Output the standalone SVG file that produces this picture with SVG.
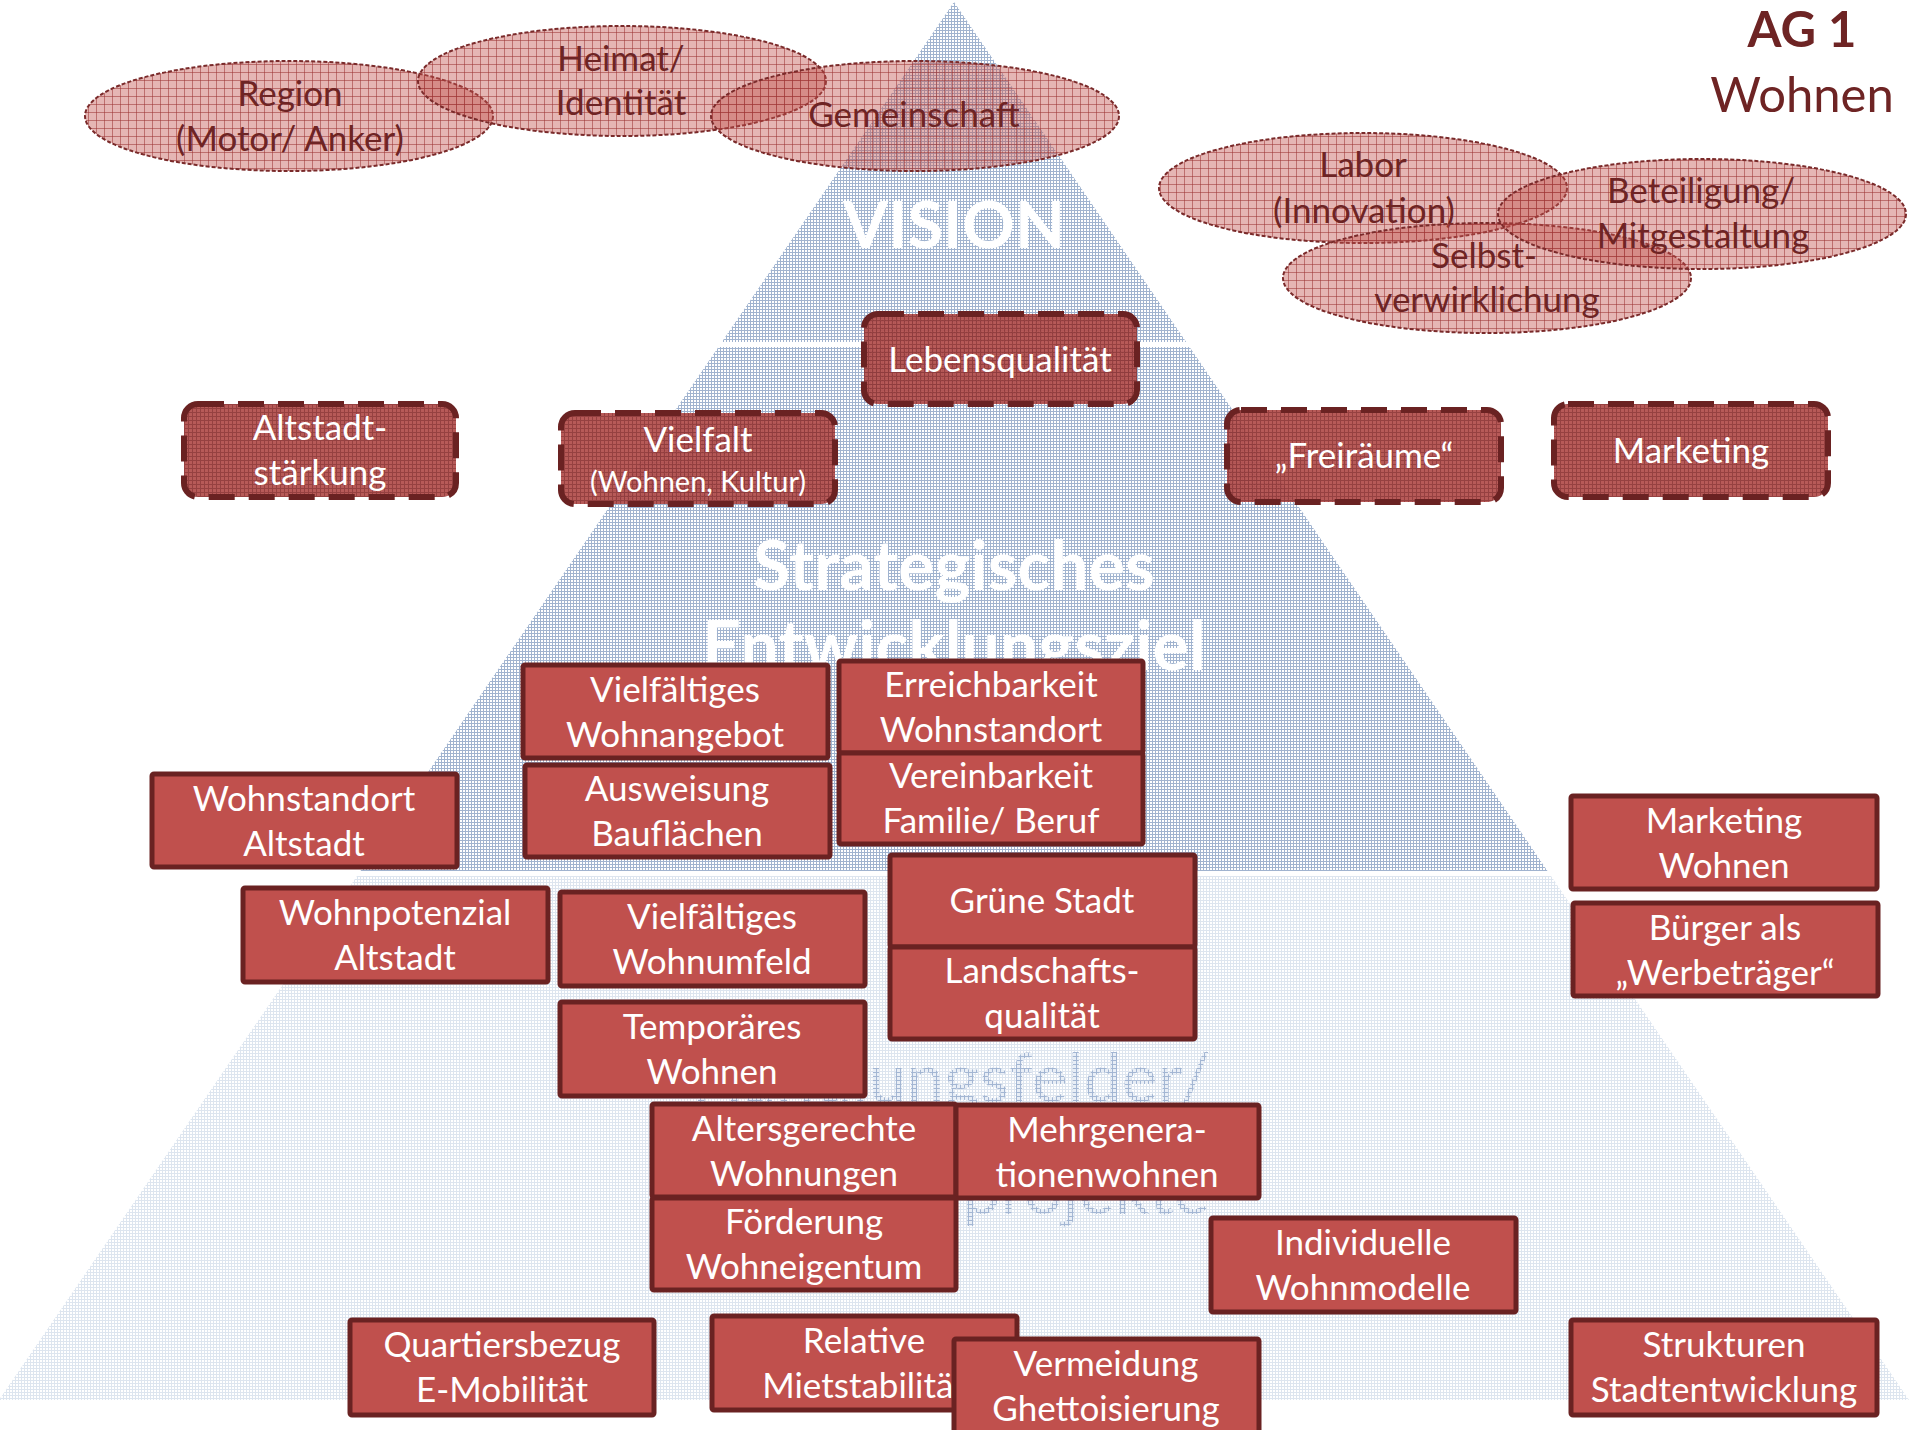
<svg xmlns="http://www.w3.org/2000/svg" width="1910" height="1430" viewBox="0 0 1910 1430">
<defs>
<pattern id="pTier" width="6" height="6" patternUnits="userSpaceOnUse">
<rect width="6" height="6" fill="#ffffff"/>
<path d="M0 0.5H6M0 3.5H6M0.5 0V6M3.5 0V6" stroke="#A0B3CF" stroke-width="1" fill="none"/>
</pattern>
<pattern id="pTierLight" width="6" height="6" patternUnits="userSpaceOnUse">
<rect width="6" height="6" fill="#ffffff"/>
<path d="M0 0.5H6M0 3.5H6M0.5 0V6M3.5 0V6" stroke="#DDE5EF" stroke-width="1" fill="none"/>
</pattern>
<pattern id="pText" width="4" height="4" patternUnits="userSpaceOnUse">
<rect width="4" height="4" fill="#E8EEF6"/>
<path d="M0 0.5H4M0.5 0V4" stroke="#A3B6D3" stroke-width="1" fill="none"/>
</pattern>
<pattern id="pEll" width="8" height="8" patternUnits="userSpaceOnUse">
<rect width="8" height="8" fill="#C0504D" fill-opacity="0.42"/>
<path d="M0 0.5H8M0.5 0V8" stroke="#9A3434" stroke-opacity="0.55" stroke-width="1" fill="none"/>
</pattern>
<pattern id="pDash" width="4" height="4" patternUnits="userSpaceOnUse">
<rect width="4" height="4" fill="#B14D4B"/>
<path d="M0 0.5H4M0.5 0V4" stroke="#8E3333" stroke-width="1" fill="none"/>
</pattern>
</defs>
<style>
.box rect { fill:#C0504D; stroke:#6A2222; stroke-width:5; }
.bt { font-family:Lato, "Open Sans", sans-serif; font-size:35px; fill:#ffffff; text-anchor:middle; }
.sm { font-size:29px; }
.dbox rect { fill:url(#pDash); fill-opacity:0.93; stroke:#6A2222; stroke-width:6; stroke-dasharray:26 14; }
.ell ellipse { fill:url(#pEll); stroke:#7A2A2A; stroke-width:2; stroke-dasharray:4 2; }
.et { font-family:Lato, "Open Sans", sans-serif; font-size:35px; fill:#6E2424; text-anchor:middle; }
.pt { font-family:Lato, "Open Sans", sans-serif; font-size:68px; font-weight:bold; fill:#ffffff; text-anchor:middle; }
.vis { font-size:65px; }
.pt3 { font-family:Lato, "Open Sans", sans-serif; font-size:68px; fill:url(#pText); text-anchor:middle; }
.title { font-family:Lato, "Open Sans", sans-serif; font-size:49px; fill:#6E2424; text-anchor:middle; }
</style>
<rect width="1910" height="1430" fill="#ffffff"/>

<g id="pyramid">
<polygon points="954,2 1186.2,342 721.8,342" fill="url(#pTier)"/>
<polygon points="718.4,347 1189.6,347 1547.5,871 360.5,871" fill="url(#pTier)"/>
<polygon points="357,876 1551,876 1909,1400 -1,1400" fill="url(#pTierLight)"/>
<text class="pt vis" x="954" y="248">VISION</text>
<text class="pt" x="954" y="590">Strategisches</text>
<text class="pt" x="954" y="670">Entwicklungsziel</text>
<text class="pt3" x="951" y="1102">Handlungsfelder/</text>
<text class="pt3" x="950" y="1214">Schlüsselprojekte</text>
</g>

<g id="title">
<text class="title" x="1802" y="47" font-weight="bold">AG 1</text>
<text class="title" x="1802" y="112">Wohnen</text>
</g>

<g id="ell-region" class="ell"><ellipse cx="289" cy="116" rx="204" ry="55"/><text class="et" x="290" y="106">Region</text><text class="et" x="290" y="151">(Motor/ Anker)</text></g>
<g id="ell-heimat" class="ell"><ellipse cx="622" cy="81" rx="204" ry="55"/><text class="et" x="621" y="71">Heimat/</text><text class="et" x="621" y="115">Identität</text></g>
<g id="ell-gemeinschaft" class="ell"><ellipse cx="915" cy="116" rx="204" ry="55"/><text class="et" x="914" y="127">Gemeinschaft</text></g>
<g id="ell-labor" class="ell"><ellipse cx="1363" cy="188" rx="204" ry="55"/><text class="et" x="1363" y="177">Labor</text><text class="et" x="1364" y="223">(Innovation)</text></g>
<g id="ell-selbst" class="ell"><ellipse cx="1487" cy="278" rx="204" ry="55"/><text class="et" x="1484" y="268">Selbst-</text><text class="et" x="1487" y="312">verwirklichung</text></g>
<g id="ell-beteiligung" class="ell"><ellipse cx="1702" cy="214" rx="204" ry="55"/><text class="et" x="1701" y="203">Beteiligung/</text><text class="et" x="1703" y="248">Mitgestaltung</text></g>

<g id="d-lebensqualitaet" class="dbox"><rect x="864" y="314" width="273" height="90" rx="14"/><text class="bt" x="1000" y="372">Lebensqualität</text></g>
<g id="d-altstadt" class="dbox"><rect x="184" y="404" width="272" height="93" rx="14"/><text class="bt" x="320" y="440">Altstadt-</text><text class="bt" x="320" y="485">stärkung</text></g>
<g id="d-vielfalt" class="dbox"><rect x="561" y="413" width="274" height="91" rx="14"/><text class="bt" x="698" y="452">Vielfalt</text><text class="bt sm" x="698" y="492">(Wohnen, Kultur)</text></g>
<g id="d-freiraeume" class="dbox"><rect x="1227" y="410" width="274" height="92" rx="14"/><text class="bt" x="1364" y="468">„Freiräume“</text></g>
<g id="d-marketing" class="dbox"><rect x="1554" y="404" width="274" height="93" rx="14"/><text class="bt" x="1691" y="463">Marketing</text></g>

<g id="b-vielf-wohnangebot" class="box"><rect x="523" y="665" width="305" height="93" rx="2"/><text class="bt" x="675" y="702">Vielfältiges</text><text class="bt" x="675" y="747">Wohnangebot</text></g>
<g id="b-erreichbarkeit" class="box"><rect x="839" y="661" width="304" height="92" rx="2"/><text class="bt" x="991" y="697">Erreichbarkeit</text><text class="bt" x="991" y="742">Wohnstandort</text></g>
<g id="b-vereinbarkeit" class="box"><rect x="839" y="753" width="304" height="91" rx="2"/><text class="bt" x="991" y="788">Vereinbarkeit</text><text class="bt" x="991" y="833">Familie/ Beruf</text></g>
<g id="b-ausweisung" class="box"><rect x="525" y="765" width="305" height="92" rx="2"/><text class="bt" x="677" y="801">Ausweisung</text><text class="bt" x="677" y="846">Bauflächen</text></g>
<g id="b-wohnstandort-altstadt" class="box"><rect x="152" y="774" width="305" height="93" rx="2"/><text class="bt" x="304" y="811">Wohnstandort</text><text class="bt" x="304" y="856">Altstadt</text></g>
<g id="b-marketing-wohnen" class="box"><rect x="1571" y="796" width="306" height="93" rx="2"/><text class="bt" x="1724" y="833">Marketing</text><text class="bt" x="1724" y="878">Wohnen</text></g>
<g id="b-wohnpotenzial" class="box"><rect x="243" y="888" width="305" height="94" rx="2"/><text class="bt" x="395" y="925">Wohnpotenzial</text><text class="bt" x="395" y="970">Altstadt</text></g>
<g id="b-wohnumfeld" class="box"><rect x="560" y="892" width="305" height="94" rx="2"/><text class="bt" x="712" y="929">Vielfältiges</text><text class="bt" x="712" y="974">Wohnumfeld</text></g>
<g id="b-gruene-stadt" class="box"><rect x="890" y="855" width="305" height="92" rx="2"/><text class="bt" x="1042" y="913">Grüne Stadt</text></g>
<g id="b-landschaft" class="box"><rect x="890" y="947" width="305" height="92" rx="2"/><text class="bt" x="1042" y="983">Landschafts-</text><text class="bt" x="1042" y="1028">qualität</text></g>
<g id="b-buerger" class="box"><rect x="1573" y="903" width="305" height="93" rx="2"/><text class="bt" x="1725" y="940">Bürger als</text><text class="bt" x="1725" y="985">„Werbeträger“</text></g>
<g id="b-temporaeres" class="box"><rect x="560" y="1002" width="305" height="94" rx="2"/><text class="bt" x="712" y="1039">Temporäres</text><text class="bt" x="712" y="1084">Wohnen</text></g>
<g id="b-altersgerecht" class="box"><rect x="652" y="1104" width="304" height="93" rx="2"/><text class="bt" x="804" y="1141">Altersgerechte</text><text class="bt" x="804" y="1186">Wohnungen</text></g>
<g id="b-mehrgen" class="box"><rect x="956" y="1105" width="303" height="93" rx="2"/><text class="bt" x="1107" y="1142">Mehrgenera-</text><text class="bt" x="1107" y="1187">tionenwohnen</text></g>
<g id="b-foerderung" class="box"><rect x="652" y="1198" width="304" height="92" rx="2"/><text class="bt" x="804" y="1234">Förderung</text><text class="bt" x="804" y="1279">Wohneigentum</text></g>
<g id="b-individuelle" class="box"><rect x="1211" y="1218" width="305" height="94" rx="2"/><text class="bt" x="1363" y="1255">Individuelle</text><text class="bt" x="1363" y="1300">Wohnmodelle</text></g>
<g id="b-quartier" class="box"><rect x="350" y="1320" width="304" height="95" rx="2"/><text class="bt" x="502" y="1357">Quartiersbezug</text><text class="bt" x="502" y="1402">E-Mobilität</text></g>
<g id="b-relative" class="box"><rect x="712" y="1316" width="305" height="94" rx="2"/><text class="bt" x="864" y="1353">Relative</text><text class="bt" x="864" y="1398">Mietstabilität</text></g>
<g id="b-vermeidung" class="box"><rect x="954" y="1339" width="305" height="96" rx="2"/><text class="bt" x="1106" y="1376">Vermeidung</text><text class="bt" x="1106" y="1421">Ghettoisierung</text></g>
<g id="b-strukturen" class="box"><rect x="1571" y="1320" width="306" height="95" rx="2"/><text class="bt" x="1724" y="1357">Strukturen</text><text class="bt" x="1724" y="1402">Stadtentwicklung</text></g>

<g id="connectors"></g>
</svg>
